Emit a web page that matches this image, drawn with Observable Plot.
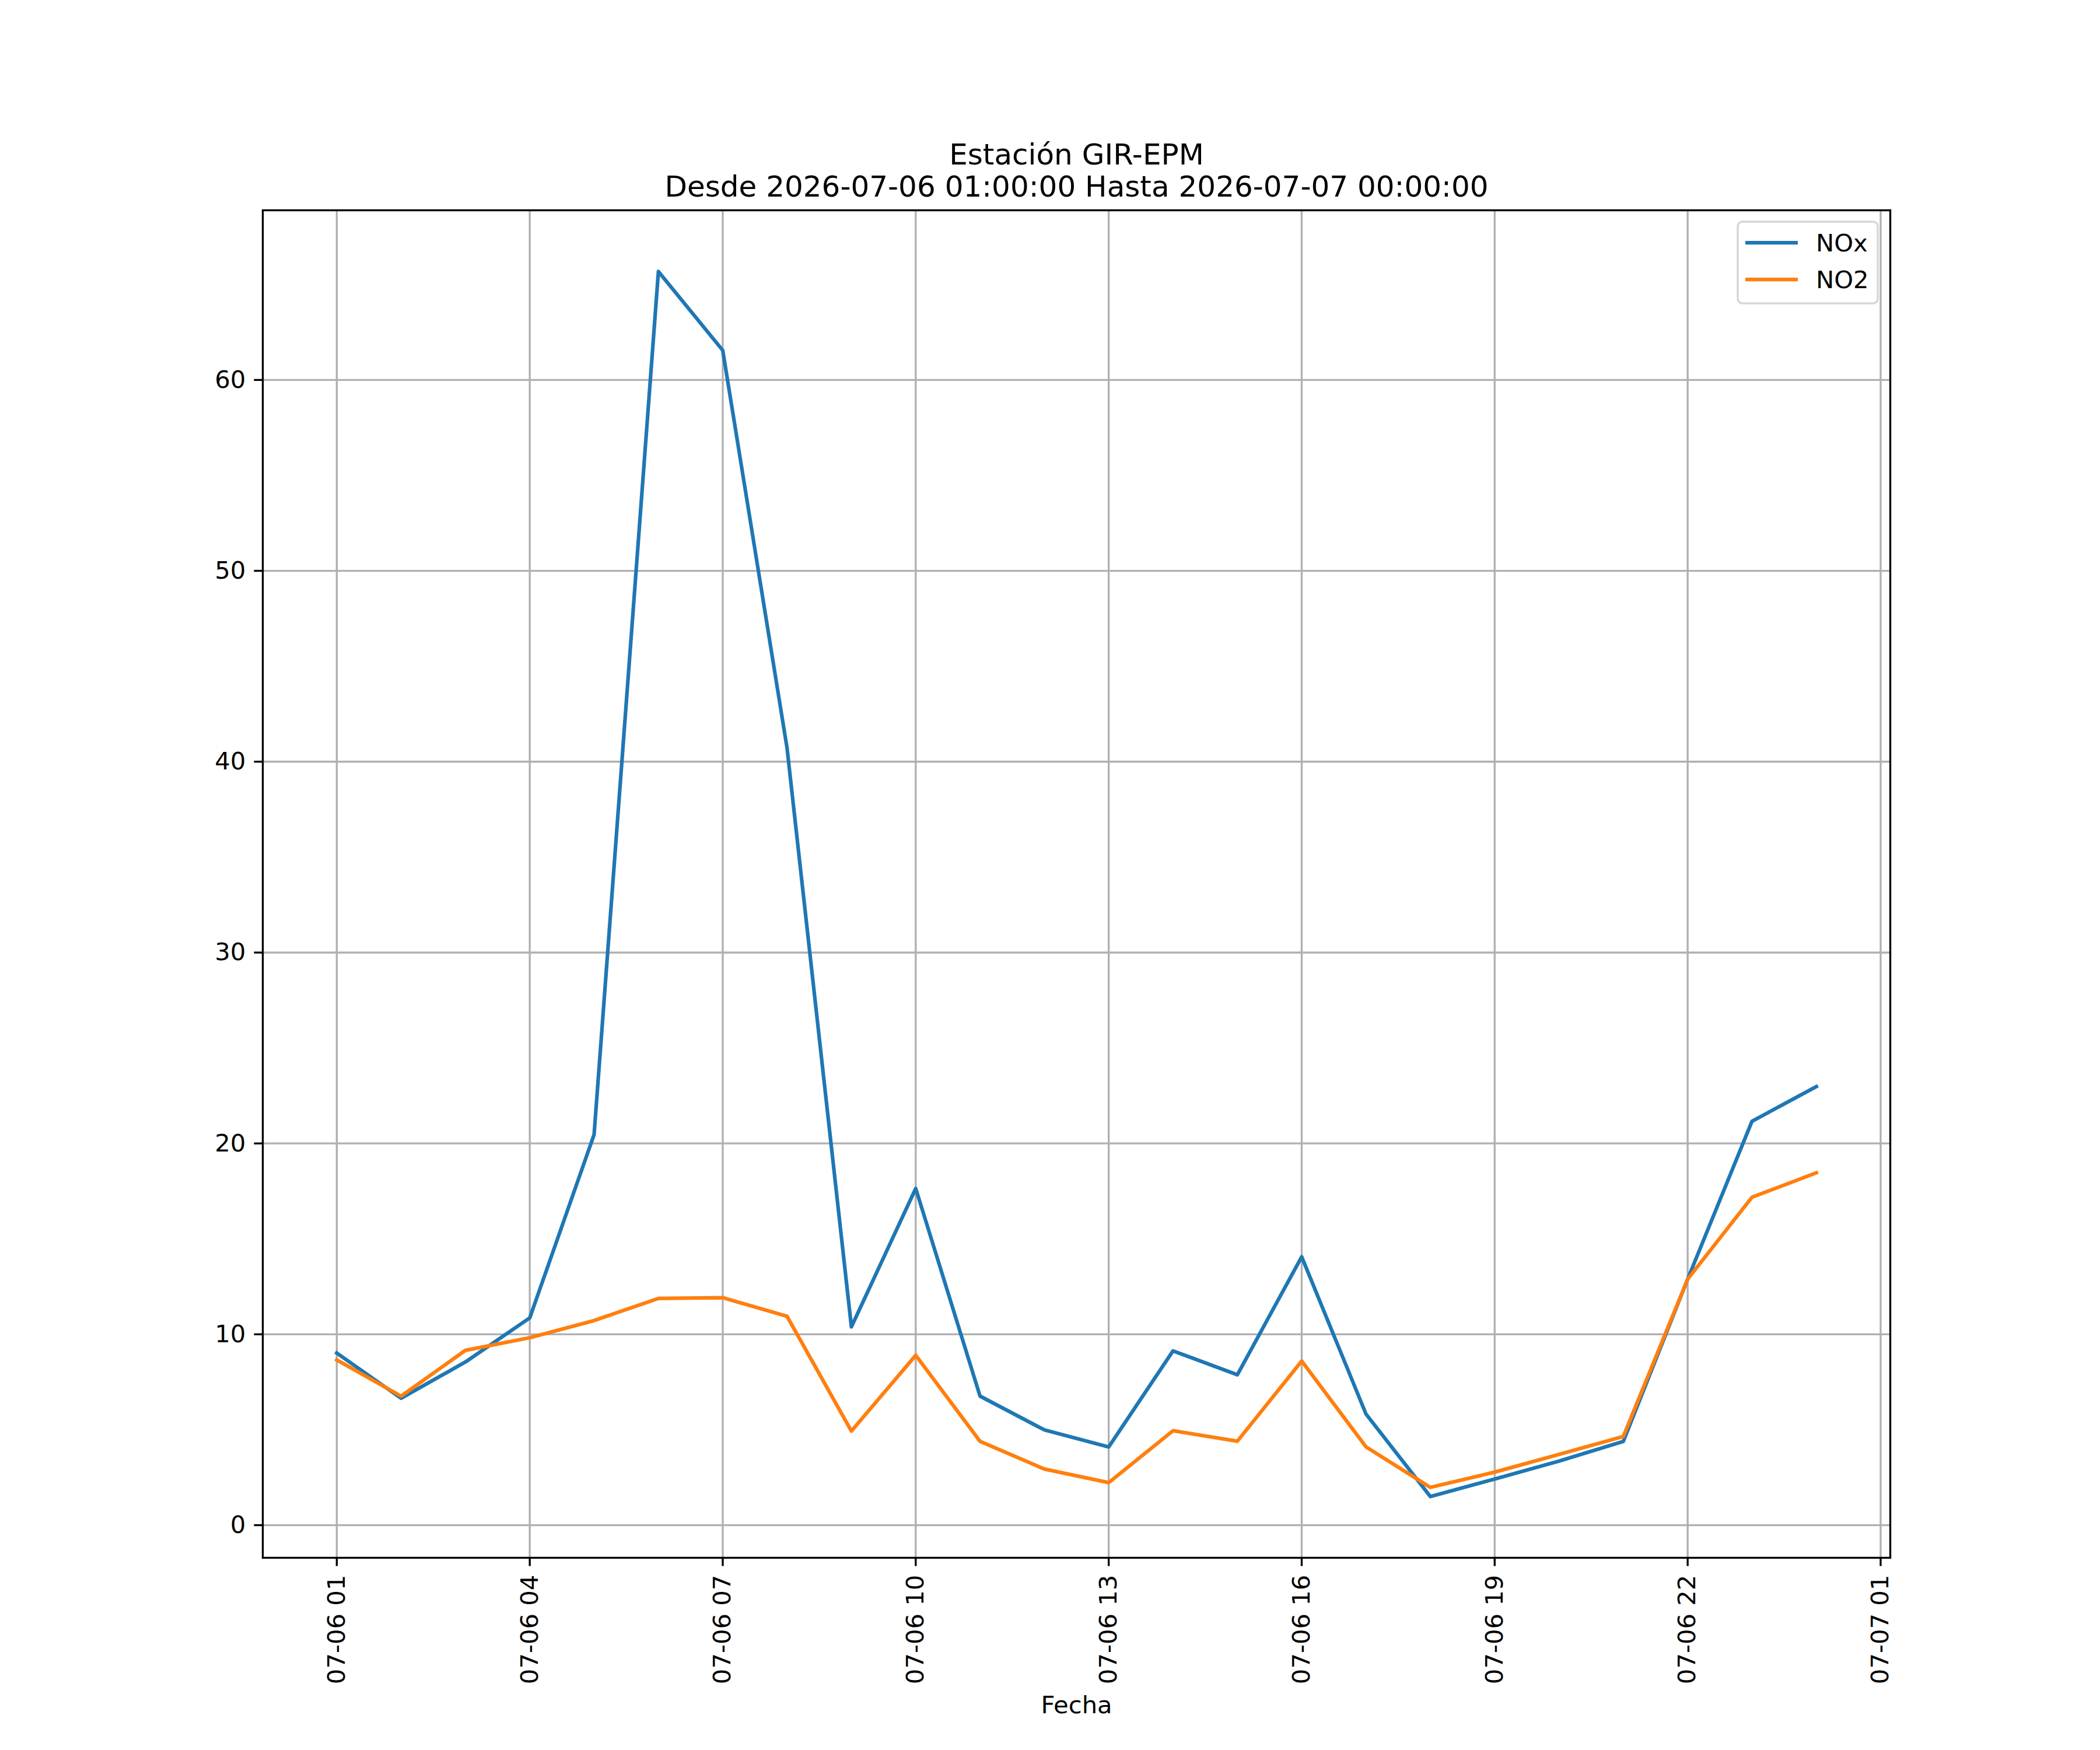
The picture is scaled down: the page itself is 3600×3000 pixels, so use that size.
<!DOCTYPE html>
<html>
<head>
<meta charset="utf-8">
<script src="https://cdn.jsdelivr.net/npm/d3@7"></script>
<script src="https://cdn.jsdelivr.net/npm/@observablehq/plot@0.6"></script>
<style>
  html, body { margin: 0; padding: 0; background: #fff; }
  #chart svg { display: block; }
</style>
</head>
<body>
<div id="chart"></div>
<script>
// ---- data ----
const titleLines = ["Estación GIR-EPM", "Desde 2026-07-06 01:00:00 Hasta 2026-07-07 00:00:00"];
const xLabel = "Fecha";
const seriesNames = ["NOx", "NO2"];
const seriesColors = ["#1f77b4", "#ff7f0e"];
const hours = [
  "2026-07-06T01:00Z", "2026-07-06T02:00Z", "2026-07-06T03:00Z", "2026-07-06T04:00Z",
  "2026-07-06T05:00Z", "2026-07-06T06:00Z", "2026-07-06T07:00Z", "2026-07-06T08:00Z",
  "2026-07-06T09:00Z", "2026-07-06T10:00Z", "2026-07-06T11:00Z", "2026-07-06T12:00Z",
  "2026-07-06T13:00Z", "2026-07-06T14:00Z", "2026-07-06T15:00Z", "2026-07-06T16:00Z",
  "2026-07-06T17:00Z", "2026-07-06T18:00Z", "2026-07-06T19:00Z", "2026-07-06T20:00Z",
  "2026-07-06T21:00Z", "2026-07-06T22:00Z", "2026-07-06T23:00Z", "2026-07-07T00:00Z"
];
const nox = [9.02, 6.65, 8.55, 10.86, 20.46, 65.68, 61.55, 40.71, 10.39, 17.64, 6.76, 4.99,
             4.10, 9.13, 7.88, 14.06, 5.82, 1.50, 2.42, 3.36, 4.39, 12.89, 21.16, 22.98];
const no2 = [8.66, 6.76, 9.16, 9.82, 10.72, 11.88, 11.92, 10.94, 4.93, 8.90, 4.39, 2.94,
             2.23, 4.95, 4.40, 8.60, 4.10, 1.98, 2.78, 3.71, 4.65, 12.89, 17.18, 18.46];
const xTicks = [
  "2026-07-06T01:00Z", "2026-07-06T04:00Z", "2026-07-06T07:00Z", "2026-07-06T10:00Z",
  "2026-07-06T13:00Z", "2026-07-06T16:00Z", "2026-07-06T19:00Z", "2026-07-06T22:00Z",
  "2026-07-07T01:00Z"
];
const yTicks = [0, 10, 20, 30, 40, 50, 60];

// ---- build ----
const dates = hours.map(h => new Date(h));
const tickDates = xTicks.map(h => new Date(h));
const rows = [];
dates.forEach((d, i) => {
  rows.push({date: d, value: nox[i], series: seriesNames[0]});
  rows.push({date: d, value: no2[i], series: seriesNames[1]});
});

// matplotlib-like 5% margins
const tMin = +dates[0], tMax = +dates[dates.length - 1];
const tPad = (tMax - tMin) * 0.05;
const allVals = nox.concat(no2);
const vMin = d3.min(allVals), vMax = d3.max(allVals);
const vPad = (vMax - vMin) * 0.05;

const FS = 41.7;     // 10pt @ 300dpi
const LW = 3.33;     // 0.8pt
const TICK = 14.6;   // 3.5pt

function legendMark(index, scales, values, dims) {
  const g = d3.create("svg:g");
  const right = dims.width - dims.marginRight;
  const top = dims.marginTop;
  const bx = right - 21 - 240, by = top + 20;
  g.append("rect")
    .attr("x", bx).attr("y", by).attr("width", 240).attr("height", 140)
    .attr("rx", 8).attr("ry", 8)
    .attr("fill", "white").attr("fill-opacity", 0.8)
    .attr("stroke", "#d6d6d6").attr("stroke-width", 3.5);
  seriesNames.forEach((name, i) => {
    const yy = by + 36 + i * 63;
    g.append("line")
      .attr("x1", bx + 13).attr("x2", bx + 103).attr("y1", yy).attr("y2", yy)
      .attr("stroke", seriesColors[i]).attr("stroke-width", 6.25);
    g.append("text")
      .attr("x", bx + 134).attr("y", yy).attr("dy", "0.35em")
      .attr("text-anchor", "start")
      .attr("font-size", FS).attr("fill", "black")
      .text(name);
  });
  return g.node();
}

const chart = Plot.plot({
  width: 3600,
  height: 3000,
  marginLeft: 450,
  marginRight: 360,
  marginTop: 360,
  marginBottom: 330,
  style: {fontFamily: "DejaVu Sans", fontSize: FS + "px", background: "white", color: "black"},
  x: {type: "utc", domain: [new Date(tMin - tPad), new Date(tMax + tPad)]},
  y: {domain: [vMin - vPad, vMax + vPad]},
  color: {domain: seriesNames, range: seriesColors},
  marks: [
    Plot.gridX(tickDates, {stroke: "#b0b0b0", strokeOpacity: 1, strokeWidth: LW}),
    Plot.gridY(yTicks, {stroke: "#b0b0b0", strokeOpacity: 1, strokeWidth: LW}),
    Plot.line(rows, {x: "date", y: "value", z: "series", stroke: "series",
      strokeWidth: 6.25, strokeLinejoin: "round", strokeLinecap: "square"}),
    Plot.axisX(tickDates, {tickFormat: d3.utcFormat("%m-%d %H"), tickSize: TICK, tickPadding: TICK,
      tickRotate: -90, label: null, fontSize: FS, strokeWidth: LW}),
    Plot.axisY(yTicks, {tickFormat: d => String(d), tickSize: TICK, tickPadding: TICK,
      label: null, fontSize: FS, strokeWidth: LW}),
    Plot.frame({stroke: "black", strokeWidth: LW}),
    Plot.text([xLabel], {frameAnchor: "bottom", dy: 2936 - 0.32 * FS - 2670, text: d => d,
      fontSize: FS, lineAnchor: "middle", fill: "black"}),
    Plot.text([titleLines[0]], {frameAnchor: "top", dy: 281 - 0.32 * 50 - 360, text: d => d,
      fontSize: 50, lineAnchor: "middle", fill: "black"}),
    Plot.text([titleLines[1]], {frameAnchor: "top", dy: 336 - 0.32 * 50 - 360, text: d => d,
      fontSize: 50, lineAnchor: "middle", fill: "black"}),
    legendMark
  ]
});
document.getElementById("chart").appendChild(chart);
</script>
</body>
</html>
